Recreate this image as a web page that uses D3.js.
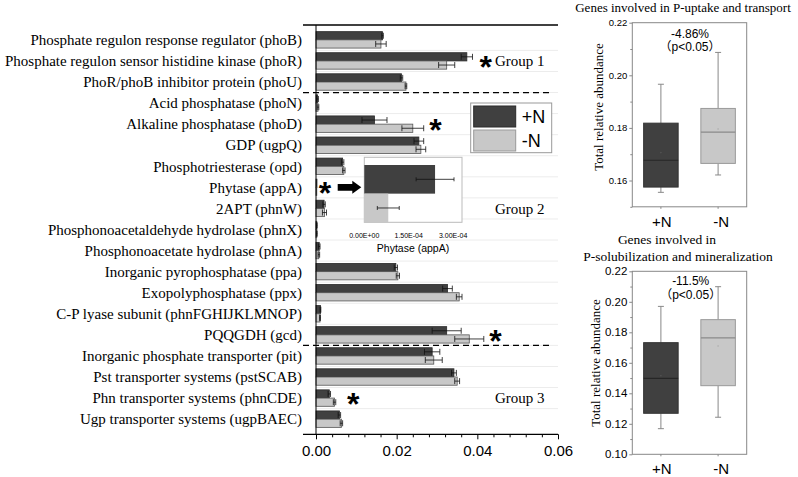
<!DOCTYPE html>
<html>
<head>
<meta charset="utf-8">
<script src="https://cdn.jsdelivr.net/npm/d3@7"></script>
<style>
  body { margin: 0; background: #fff; }
  svg { display: block; }
</style>
</head>
<body>
<div id="chart"></div>
<script>
// ---- data ----
const genes = [
  'Phosphate regulon response regulator (phoB)',
  'Phosphate regulon sensor histidine kinase (phoR)',
  'PhoR/phoB inhibitor protein (phoU)',
  'Acid phosphatase (phoN)',
  'Alkaline phosphatase (phoD)',
  'GDP (ugpQ)',
  'Phosphotriesterase (opd)',
  'Phytase (appA)',
  '2APT (phnW)',
  'Phosphonoacetaldehyde hydrolase (phnX)',
  'Phosphonoacetate hydrolase (phnA)',
  'Inorganic pyrophosphatase (ppa)',
  'Exopolyphosphatase (ppx)',
  'C-P lyase subunit (phnFGHIJKLMNOP)',
  'PQQGDH (gcd)',
  'Inorganic phosphate transporter (pit)',
  'Pst transporter systems (pstSCAB)',
  'Phn transporter systems (phnCDE)',
  'Ugp transporter systems (ugpBAEC)'
];
const plusN    = [0.0165, 0.0374, 0.0212, 0.0004, 0.0145, 0.0255, 0.0066, 0.00024, 0.0020, 0.0002, 0.0008, 0.0198, 0.0326, 0.0011, 0.0324, 0.0288, 0.0342, 0.0033, 0.0058];
const plusErr  = [0.0002, 0.0014, 0.0003, 0.0002, 0.0031, 0.0012, 0.0003, 0.0000, 0.0003, 0.0001, 0.0002, 0.0004, 0.0012, 0.0001, 0.0036, 0.0019, 0.0006, 0.0003, 0.0003];
const minusN   = [0.0161, 0.0324, 0.0223, 0.0005, 0.0240, 0.0260, 0.0069, 0.00008, 0.0021, 0.0002, 0.0007, 0.0203, 0.0355, 0.0010, 0.0380, 0.0292, 0.0350, 0.0046, 0.0063];
const minusErr = [0.0013, 0.0020, 0.0002, 0.0002, 0.0027, 0.0012, 0.0003, 0.0000, 0.0005, 0.0001, 0.0002, 0.0004, 0.0007, 0.0001, 0.0036, 0.0021, 0.0006, 0.0003, 0.0003];
const significant = ['Phosphate regulon sensor histidine kinase (phoR)', 'Alkaline phosphatase (phoD)',
                     'Phytase (appA)', 'PQQGDH (gcd)', 'Phn transporter systems (phnCDE)'];
const groupNames = ['Group 1', 'Group 2', 'Group 3'];
const groupRows  = [1, 8, 17];
const groupBreaks = [2, 14];   // dashed line drawn after these rows
const xTicks = [0, 0.02, 0.04, 0.06];

// phytase inset
const treatments = ['+N', '-N'];
const phytase    = [0.000239, 0.000081];
const phytaseErr = [0.000064, 0.000037];
const insetTicks = [0, 0.00015, 0.0003];

// box plots (min, q1, median, q3, max, mean)
const uptakeBoxes = [
  {t: '+N', min: 0.1555, q1: 0.1575, med: 0.1677, q3: 0.1818, max: 0.1966, mean: 0.1706},
  {t: '-N', min: 0.1621, q1: 0.1665, med: 0.1784, q3: 0.1874, max: 0.2087, mean: 0.1796}
];
const solubBoxes = [
  {t: '+N', min: 0.1168, q1: 0.1269, med: 0.1498, q3: 0.1732, max: 0.1970, mean: 0.1515},
  {t: '-N', min: 0.1243, q1: 0.1450, med: 0.1763, q3: 0.1883, max: 0.2099, mean: 0.1710}
];
const uptakeTicks = [0.16, 0.18, 0.20, 0.22];
const solubTicks  = [0.10, 0.12, 0.14, 0.16, 0.18, 0.20, 0.22];

const DARK = '#404040', LIGHT = '#c8c8c8';
const SERIF = '"Liberation Serif", "Times New Roman", serif';
const SANS = '"Liberation Sans", Arial, "Noto Sans CJK SC", sans-serif';

const W = 798, H = 477;
const svg = d3.select('#chart').append('svg')
  .attr('width', W).attr('height', H)
  .style('font-family', SANS);

// ---- main bar chart ----
const x = d3.scaleLinear().domain([0, 0.06]).range([316, 558]);
const y = d3.scaleBand().domain(genes).range([27, 432]).paddingInner(0.22).paddingOuter(0.22);
const sub = d3.scaleBand().domain(treatments).range([0, y.bandwidth()]);
const step = y.step();

const main = svg.append('g');

// faint row separators
main.selectAll('line.grid')
  .data(genes.slice(1))
  .join('line')
  .attr('x1', x(0)).attr('x2', x(0.06))
  .attr('y1', d => y(d) - step * 0.11).attr('y2', d => y(d) - step * 0.11)
  .style('stroke', '#ececec').style('stroke-width', 1);

const rows = genes.map((g, i) => ({g, vals: [
  {t: '+N', v: plusN[i], e: plusErr[i]},
  {t: '-N', v: minusN[i], e: minusErr[i]}
]}));

const rowG = main.selectAll('g.row')
  .data(rows)
  .join('g')
  .classed('row', true)
  .attr('transform', d => `translate(0,${y(d.g)})`);

rowG.selectAll('rect')
  .data(d => d.vals)
  .join('rect')
  .attr('x', x(0))
  .attr('y', d => sub(d.t))
  .attr('width', d => Math.max(x(d.v) - x(0), 0.8))
  .attr('height', sub.bandwidth())
  .style('fill', d => d.t === '+N' ? DARK : LIGHT)
  .style('stroke', d => d.t === '+N' ? '#2a2a2a' : '#555')
  .style('stroke-width', 0.8);

// error bars
const errG = rowG.selectAll('g.err')
  .data(d => d.vals.filter(v => v.e > 0))
  .join('g')
  .classed('err', true)
  .attr('transform', d => `translate(0,${sub(d.t) + sub.bandwidth() / 2})`)
  .style('stroke', '#111').style('stroke-width', 0.8);
errG.append('line')
  .attr('x1', d => x(d.v - d.e)).attr('x2', d => x(d.v + d.e))
  .attr('y1', 0).attr('y2', 0);
errG.append('line')
  .attr('x1', d => x(d.v - d.e)).attr('x2', d => x(d.v - d.e))
  .attr('y1', -3).attr('y2', 3);
errG.append('line')
  .attr('x1', d => x(d.v + d.e)).attr('x2', d => x(d.v + d.e))
  .attr('y1', -3).attr('y2', 3);

// category labels
main.selectAll('text.cat')
  .data(genes)
  .join('text')
  .classed('cat', true)
  .attr('x', 302)
  .attr('y', d => y(d) + y.bandwidth() / 2)
  .attr('dy', '0.35em')
  .attr('text-anchor', 'end')
  .style('font-family', SERIF)
  .style('font-size', '15px')
  .text(d => d);

// asterisks, placed just right of the longer error bar
const starX = {
  'Phosphate regulon sensor histidine kinase (phoR)': 0.0421,
  'Alkaline phosphatase (phoD)': 0.0296,
  'Phytase (appA)': 0.0022,
  'PQQGDH (gcd)': 0.0445,
  'Phn transporter systems (phnCDE)': 0.0092
};
main.selectAll('text.star')
  .data(significant)
  .join('text')
  .classed('star', true)
  .attr('x', d => x(starX[d]))
  .attr('y', d => y(d) + y.bandwidth() / 2 + 17)
  .attr('text-anchor', 'middle')
  .style('font-size', '32px')
  .style('font-weight', 'bold')
  .text('*');

// group labels
main.selectAll('text.group')
  .data(groupNames)
  .join('text')
  .classed('group', true)
  .attr('x', 495)
  .attr('y', (d, i) => y(genes[groupRows[i]]) + y.bandwidth() / 2)
  .attr('dy', '0.35em')
  .style('font-family', SERIF)
  .style('font-size', '15px')
  .text(d => d);

// dashed group separators
main.selectAll('line.sep')
  .data(groupBreaks)
  .join('line')
  .attr('x1', 303).attr('x2', 553)
  .attr('y1', d => y(genes[d]) + y.bandwidth() + step * 0.11)
  .attr('y2', d => y(genes[d]) + y.bandwidth() + step * 0.11)
  .style('stroke', '#000').style('stroke-width', 1.3)
  .style('stroke-dasharray', '6 4');

// frame lines
const axisY = 434.3;
main.append('line').attr('x1', 303).attr('x2', 558).attr('y1', 25).attr('y2', 25)
  .style('stroke', '#000').style('stroke-width', 1.3);
main.append('line').attr('x1', x(0)).attr('x2', x(0)).attr('y1', 25).attr('y2', axisY)
  .style('stroke', '#000').style('stroke-width', 1);
main.append('line').attr('x1', 303).attr('x2', 558).attr('y1', axisY).attr('y2', axisY)
  .style('stroke', '#000').style('stroke-width', 1.2);

// x axis
const xAxis = main.append('g').attr('transform', `translate(0,${axisY})`)
  .call(d3.axisBottom(x).tickValues(xTicks).tickFormat(d3.format('.2f'))
    .tickSize(5).tickSizeOuter(0).tickPadding(6));
xAxis.select('.domain').remove();
xAxis.selectAll('text').style('font-family', SANS).style('font-size', '15px');
const minorTicks = d3.range(1, 15).map(i => i * 0.004).filter(v => Math.round(v * 1000) % 20 !== 0);
const xMinor = main.append('g').attr('transform', `translate(0,${axisY})`)
  .call(d3.axisBottom(x).tickValues(minorTicks).tickFormat('').tickSize(3).tickSizeOuter(0));
xMinor.select('.domain').remove();

// legend
const legend = main.append('g').attr('transform', 'translate(470.7,103)');
legend.append('rect').attr('width', 81).attr('height', 49.7)
  .style('fill', '#fff').style('stroke', '#999').style('stroke-width', 1);
legend.selectAll('rect.sw')
  .data(treatments)
  .join('rect')
  .classed('sw', true)
  .attr('x', 3).attr('y', (d, i) => 3 + i * 24)
  .attr('width', 42).attr('height', 21)
  .style('fill', d => d === '+N' ? DARK : LIGHT)
  .style('stroke', d => d === '+N' ? '#2a2a2a' : '#999');
legend.selectAll('text')
  .data(treatments)
  .join('text')
  .attr('x', 51).attr('y', (d, i) => 13.5 + i * 24)
  .attr('dy', '0.36em')
  .style('font-size', '18px')
  .text(d => d);

// ---- phytase inset ----
const ix = d3.scaleLinear().domain([0, 0.00033]).range([364.3, 462]);
const iy = d3.scaleBand().domain(treatments).range([165, 222.3]);
const inset = svg.append('g');
inset.append('rect').attr('x', 364.3).attr('y', 157.3).attr('width', 97.7).attr('height', 65)
  .style('fill', '#fff').style('stroke', '#bbb');
inset.selectAll('rect.bar')
  .data(treatments)
  .join('rect')
  .classed('bar', true)
  .attr('x', ix(0)).attr('y', d => iy(d))
  .attr('width', (d, i) => ix(phytase[i]) - ix(0))
  .attr('height', iy.bandwidth())
  .style('fill', d => d === '+N' ? DARK : LIGHT);
const ie = inset.selectAll('g.ierr')
  .data(treatments)
  .join('g')
  .classed('ierr', true)
  .attr('transform', d => `translate(0,${iy(d) + iy.bandwidth() / 2})`)
  .style('stroke', '#111').style('stroke-width', 0.8);
ie.append('line').attr('x1', (d, i) => ix(phytase[i] - phytaseErr[i]))
  .attr('x2', (d, i) => ix(phytase[i] + phytaseErr[i]));
ie.append('line').attr('x1', (d, i) => ix(phytase[i] - phytaseErr[i]))
  .attr('x2', (d, i) => ix(phytase[i] - phytaseErr[i])).attr('y1', -2).attr('y2', 2);
ie.append('line').attr('x1', (d, i) => ix(phytase[i] + phytaseErr[i]))
  .attr('x2', (d, i) => ix(phytase[i] + phytaseErr[i])).attr('y1', -2).attr('y2', 2);
const sci = d => {
  const [m, e] = d.toExponential(2).split('e');
  const n = Math.abs(+e);
  return `${m}E${+e < 0 ? '-' : '+'}${n < 10 ? '0' + n : n}`.toUpperCase();
};
inset.selectAll('text.itick')
  .data(insetTicks)
  .join('text')
  .classed('itick', true)
  .attr('x', d => ix(d)).attr('y', 235.7).attr('dy', '0.35em')
  .attr('text-anchor', 'middle')
  .style('font-size', '7px')
  .text(sci);
inset.append('text')
  .attr('x', 413).attr('y', 248.7).attr('dy', '0.35em')
  .attr('text-anchor', 'middle')
  .style('font-size', '10.5px')
  .text('Phytase (appA)');
// arrow pointing into inset
const ay = y('Phytase (appA)') + y.bandwidth() / 2;
const ax0 = 337.7, ax1 = ix(0) - 3;
inset.append('path')
  .attr('d', `M${ax0},${ay - 3.3}H${ax1 - 9}V${ay - 6.5}L${ax1},${ay}L${ax1 - 9},${ay + 6.5}V${ay + 3.3}H${ax0}Z`)
  .style('fill', '#000');

// ---- box plots ----
function boxPlot(g, boxes, domain, yRange, ticks, tickFont) {
  const bx = d3.scalePoint().domain(treatments).range([632.3, 746.7]).padding(0.5);
  const by = d3.scaleLinear().domain(domain).range(yRange);
  const bw = 34.5;
  const frameTop = yRange[1], frameBot = yRange[0];

  g.append('rect').attr('x', 632.3).attr('y', frameTop)
    .attr('width', 114.4).attr('height', frameBot - frameTop)
    .style('fill', 'none').style('stroke', '#888').style('stroke-width', 1);

  const ya = g.append('g').attr('transform', 'translate(632.3,0)')
    .call(d3.axisLeft(by).tickValues(ticks).tickFormat(d3.format('.2f')).tickSize(3).tickPadding(2));
  ya.select('.domain').remove();
  ya.selectAll('line').style('stroke', '#888');
  ya.selectAll('text').style('font-family', SANS).style('font-size', tickFont);
  const minor = ticks.slice(1).map(t => t - 0.01).concat(domain[0] < ticks[0] - 0.005 ? [ticks[0] - 0.01] : []);
  const ym = g.append('g').attr('transform', 'translate(632.3,0)')
    .call(d3.axisLeft(by).tickValues(minor).tickFormat('').tickSize(2));
  ym.select('.domain').remove();
  ym.selectAll('line').style('stroke', '#888');

  g.selectAll('line.xt')
    .data(treatments)
    .join('line')
    .attr('x1', d => bx(d)).attr('x2', d => bx(d))
    .attr('y1', frameBot).attr('y2', frameBot + 2)
    .style('stroke', '#888');

  const b = g.selectAll('g.box')
    .data(boxes)
    .join('g')
    .classed('box', true);
  b.append('line')
    .attr('x1', d => bx(d.t)).attr('x2', d => bx(d.t))
    .attr('y1', d => by(d.max)).attr('y2', d => by(d.q3))
    .style('stroke', '#888');
  b.append('line')
    .attr('x1', d => bx(d.t)).attr('x2', d => bx(d.t))
    .attr('y1', d => by(d.q1)).attr('y2', d => by(d.min))
    .style('stroke', '#888');
  b.selectAll('line.cap')
    .data(d => [{t: d.t, v: d.max}, {t: d.t, v: d.min}])
    .join('line')
    .classed('cap', true)
    .attr('x1', d => bx(d.t) - 3).attr('x2', d => bx(d.t) + 3)
    .attr('y1', d => by(d.v)).attr('y2', d => by(d.v))
    .style('stroke', '#888');
  b.append('rect')
    .attr('x', d => bx(d.t) - bw / 2).attr('width', bw)
    .attr('y', d => by(d.q3)).attr('height', d => by(d.q1) - by(d.q3))
    .style('fill', d => d.t === '+N' ? DARK : LIGHT)
    .style('stroke', d => d.t === '+N' ? '#333' : '#999');
  b.append('line')
    .attr('x1', d => bx(d.t) - bw / 2).attr('x2', d => bx(d.t) + bw / 2)
    .attr('y1', d => by(d.med)).attr('y2', d => by(d.med))
    .style('stroke', d => d.t === '+N' ? '#262626' : '#8a8a8a').style('stroke-width', 1.2);
  b.append('circle')
    .attr('cx', d => bx(d.t)).attr('cy', d => by(d.mean)).attr('r', 0.8)
    .style('fill', d => d.t === '+N' ? '#555' : '#aaa');

  g.selectAll('text.xl')
    .data(treatments)
    .join('text')
    .classed('xl', true)
    .attr('x', d => bx(d) + (d === '+N' ? 1 : 3)).attr('y', frameBot + 14.5)
    .attr('dy', '0.35em')
    .attr('text-anchor', 'middle')
    .style('font-size', '15px')
    .text(d => d);
  return by;
}

const g1 = svg.append('g');
boxPlot(g1, uptakeBoxes, [0.15, 0.22], [206.8, 22.7], uptakeTicks, '9.5px');
g1.append('text').attr('x', 683).attr('y', 7.5).attr('dy', '0.35em')
  .attr('text-anchor', 'middle').style('font-family', SERIF).style('font-size', '13px')
  .text('Genes involved in P-uptake and transport');
g1.append('text').attr('transform', 'translate(598,107) rotate(-90)').attr('dy', '0.35em')
  .attr('text-anchor', 'middle').style('font-family', SERIF).style('font-size', '13px')
  .text('Total relative abundance');
g1.append('text').attr('x', 690).attr('y', 33.3).attr('dy', '0.35em')
  .attr('text-anchor', 'middle').style('font-size', '12px').text('-4.86%');
g1.append('text').attr('x', 690).attr('y', 46.7).attr('dy', '0.35em')
  .attr('text-anchor', 'middle').style('font-size', '12px').text('（p<0.05）');

const g2 = svg.append('g');
boxPlot(g2, solubBoxes, [0.10, 0.22], [454.3, 271.3], solubTicks, '11.5px');
g2.append('text').attr('x', 667).attr('y', 239).attr('dy', '0.35em')
  .attr('text-anchor', 'middle').style('font-family', SERIF).style('font-size', '13.5px')
  .text('Genes involved in');
g2.append('text').attr('x', 678).attr('y', 256).attr('dy', '0.35em')
  .attr('text-anchor', 'middle').style('font-family', SERIF).style('font-size', '13.5px')
  .text('P-solubilization and mineralization');
g2.append('text').attr('transform', 'translate(595,363) rotate(-90)').attr('dy', '0.35em')
  .attr('text-anchor', 'middle').style('font-family', SERIF).style('font-size', '13px')
  .text('Total relative abundance');
g2.append('text').attr('x', 690.7).attr('y', 280.7).attr('dy', '0.35em')
  .attr('text-anchor', 'middle').style('font-size', '12px').text('-11.5%');
g2.append('text').attr('x', 690.7).attr('y', 295).attr('dy', '0.35em')
  .attr('text-anchor', 'middle').style('font-size', '12px').text('（p<0.05）');
</script>
</body>
</html>
